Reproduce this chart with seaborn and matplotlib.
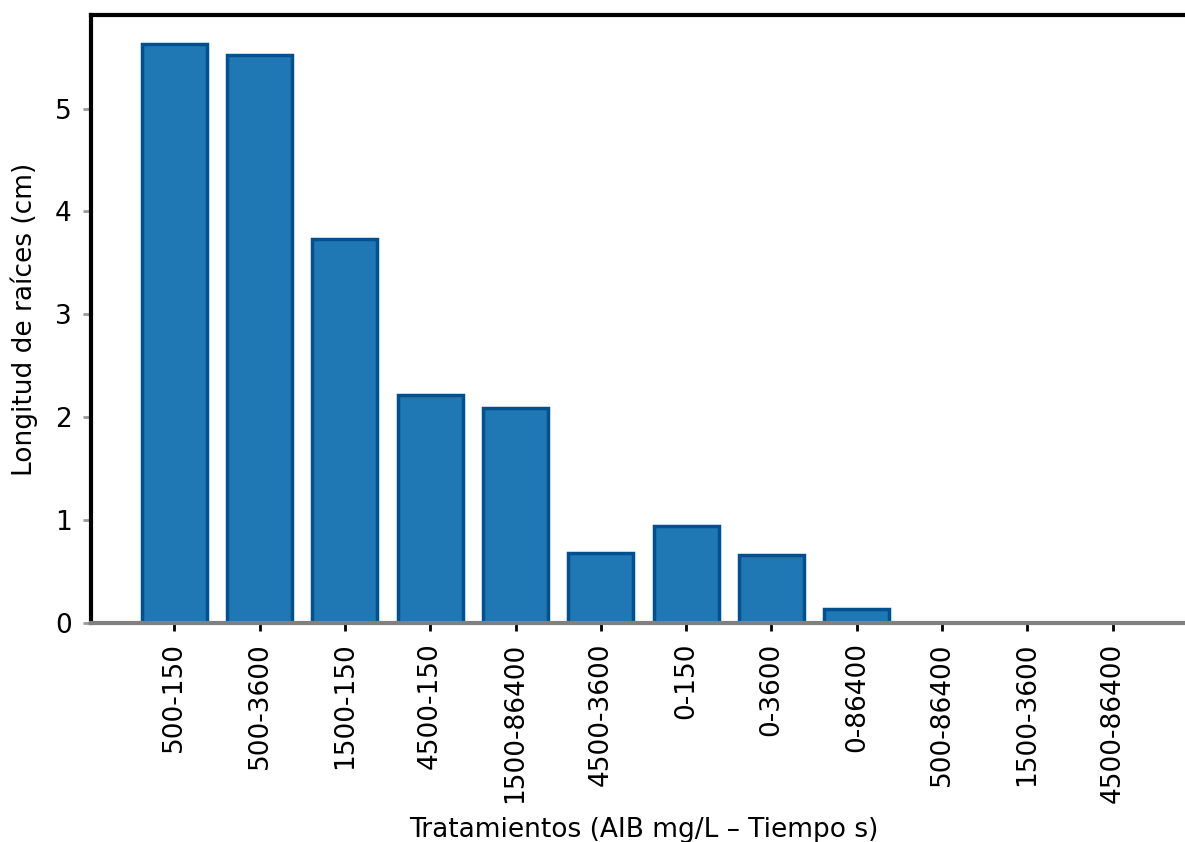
import numpy as np
import pandas as pd
import matplotlib
matplotlib.use("Agg")
import matplotlib.pyplot as plt
import seaborn as sns

#%% Datos
tratamientos = ["500-150", "500-3600", "1500-150", "4500-150", "1500-86400",
                "4500-3600", "0-150", "0-3600", "0-86400", "500-86400",
                "1500-3600", "4500-86400"]
longitud = [5.63, 5.52, 3.73, 2.22, 2.09, 0.68, 0.94, 0.66, 0.14, 0.0, 0.0, 0.0]

datos = pd.DataFrame({"tratamiento": tratamientos, "longitud": longitud})

#%% Grafico de barras
sns.set_style("ticks")
plt.rcParams["font.family"] = ["DejaVu Sans"]
plt.rcParams["text.color"] = "black"
plt.rcParams["axes.labelcolor"] = "black"
plt.rcParams["xtick.labelcolor"] = "black"
plt.rcParams["ytick.labelcolor"] = "black"

fig = plt.figure(figsize=(11.85, 8.42), dpi=100)
ax = fig.add_axes([91 / 1185, 1 - 623 / 842, 1105 / 1185, 608 / 842])

sns.barplot(data=datos, x="tratamiento", y="longitud", order=tratamientos,
            color="#1f77b4", saturation=1, width=0.76,
            edgecolor="#03508f", linewidth=2.5, ax=ax)

ax.set_xlim(-0.975, 11.975)
ax.set_ylim(0, 5.91)
ax.set_yticks(range(0, 6))

ax.set_xlabel("Tratamientos (AIB mg/L – Tiempo s)", fontsize=19, labelpad=10)
ax.set_ylabel("Longitud de raíces (cm)", fontsize=19, labelpad=12)
ax.tick_params(axis="x", labelrotation=90, labelsize=19, length=6, width=2,
               color="black", pad=8)
ax.tick_params(axis="y", labelsize=19, length=6, width=2, color="#999999", pad=8)

ax.spines["right"].set_visible(False)
ax.spines["left"].set_color("black")
ax.spines["top"].set_color("black")
ax.spines["left"].set_linewidth(3)
ax.spines["top"].set_linewidth(3)
ax.spines["bottom"].set_color("#808080")
ax.spines["bottom"].set_linewidth(3)

fig.savefig("out.png", dpi=100)
